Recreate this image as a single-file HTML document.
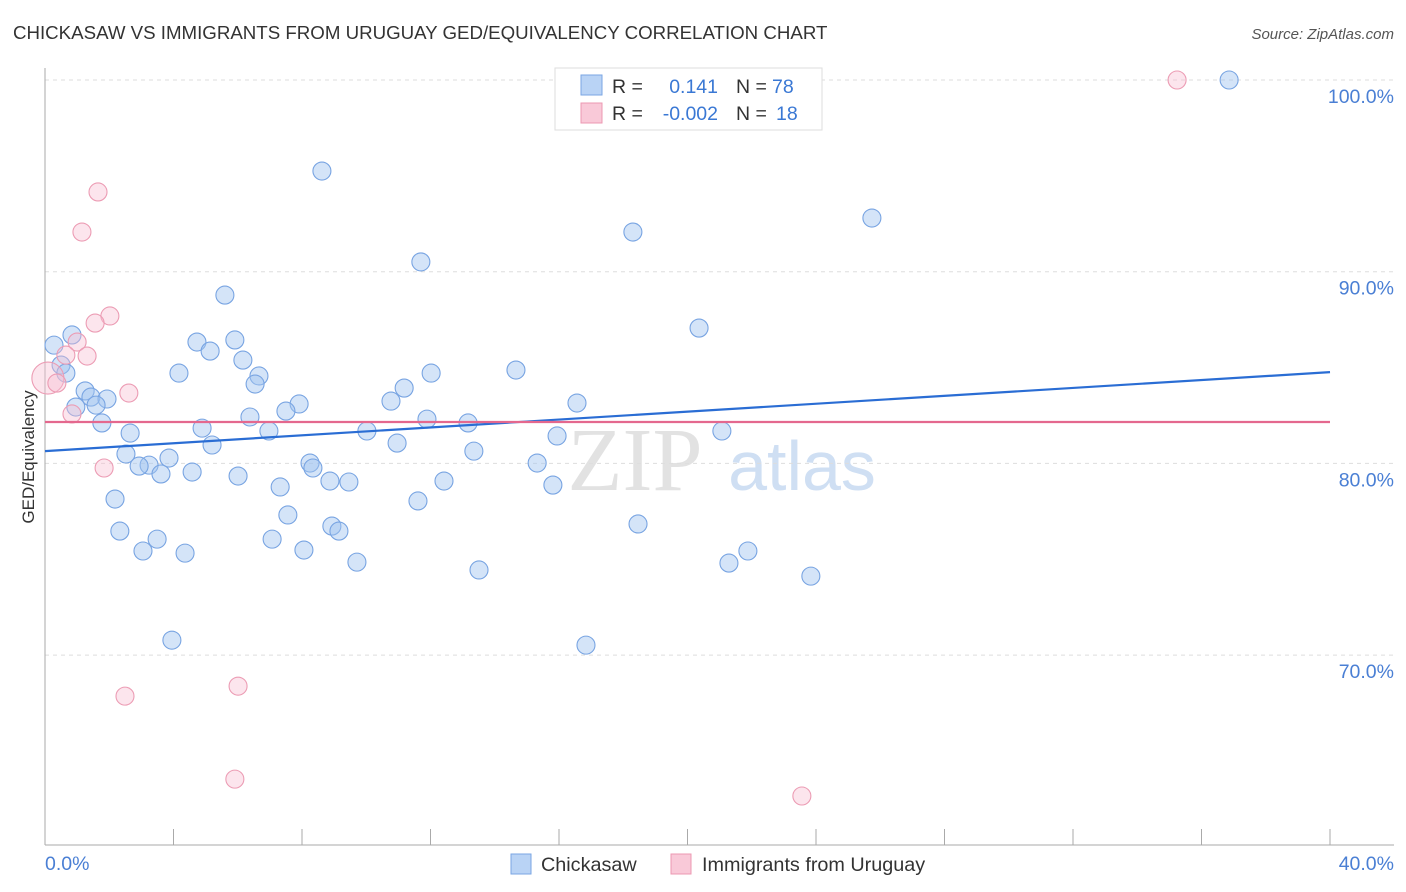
<!DOCTYPE html>
<html><head><meta charset="utf-8"><style>
body{margin:0;background:#fff;font-family:"Liberation Sans",sans-serif}
svg{display:block}
</style></head><body>
<svg id="chart" width="1406" height="892" xmlns="http://www.w3.org/2000/svg">
<text x="13" y="39" font-size="18.7" fill="#333">CHICKASAW VS IMMIGRANTS FROM URUGUAY GED/EQUIVALENCY CORRELATION CHART</text>
<text x="1394" y="39" font-size="15" fill="#555" font-style="italic" text-anchor="end">Source: ZipAtlas.com</text>
<g>
<text x="635" y="490" font-size="90" fill="#e2e2e2" font-family="Liberation Serif,serif" text-anchor="middle">ZIP</text>
<text x="802" y="490" font-size="70" fill="#cfdff3" text-anchor="middle">atlas</text>
</g>
<g id="grid"></g>
<g id="axes"></g>
<g id="marks"></g>
<text transform="translate(34,457) rotate(-90)" font-size="17" fill="#333" text-anchor="middle">GED/Equivalency</text>
<text x="45" y="870" font-size="19.5" fill="#4a7fd4">0.0%</text>
<text x="1394" y="870" font-size="19.5" fill="#4a7fd4" text-anchor="end">40.0%</text>
<g>
<rect x="555" y="68" width="267" height="62" fill="#fff" stroke="#ddd"/>
<rect x="581" y="75" width="21" height="20" fill="#b9d3f5" stroke="#7aa6e3"/>
<rect x="581" y="103" width="21" height="20" fill="#f9c9d8" stroke="#ec98b2"/>
<text x="612" y="93" font-size="19.5" fill="#333">R =</text>
<text x="718" y="93" font-size="19.5" fill="#3a78d4" text-anchor="end">0.141</text>
<text x="736" y="93" font-size="19.5" fill="#333">N =</text>
<text x="772" y="93" font-size="19.5" fill="#3a78d4">78</text>
<text x="612" y="120" font-size="19.5" fill="#333">R =</text>
<text x="718" y="120" font-size="19.5" fill="#3a78d4" text-anchor="end">-0.002</text>
<text x="736" y="120" font-size="19.5" fill="#333">N =</text>
<text x="776" y="120" font-size="19.5" fill="#3a78d4">18</text>
</g>
<g>
<rect x="511" y="854" width="20" height="20" fill="#b9d3f5" stroke="#7aa6e3"/>
<text x="541" y="871" font-size="19.8" fill="#333">Chickasaw</text>
</g>
<g>
<rect x="671" y="854" width="20" height="20" fill="#f9c9d8" stroke="#ec98b2"/>
<text x="702" y="871" font-size="19.8" fill="#333">Immigrants from Uruguay</text>
</g>
</svg>
<script>
const yTicks=[70,80,90,100];
const yTickLabels=["70.0%","80.0%","90.0%","100.0%"];
const xTicks=[0,4,8,12,16,20,24,28,32,36,40];
const blueX=[36.86,8.62,25.74,18.30,11.70,5.60,20.36,0.84,5.91,4.73,0.28,5.14,6.16,0.50,0.65,4.17,12.02,14.66,6.66,6.54,1.25,11.18,1.43,1.93,0.96,1.59,7.91,10.77,16.56,7.50,6.38,11.89,13.17,1.77,4.89,10.02,2.65,6.97,21.07,15.94,10.96,5.20,13.35,2.52,3.86,3.24,2.93,8.25,8.34,15.32,3.61,4.58,6.01,8.87,9.46,12.42,7.32,15.81,2.18,11.61,7.56,8.93,9.15,18.46,2.33,7.07,3.49,3.05,4.36,8.06,21.88,21.29,9.71,13.51,23.84,3.95,16.84];
const blueY=[100.0,95.25,92.80,92.07,90.51,88.78,87.06,86.70,86.44,86.33,86.17,85.86,85.39,85.13,84.71,84.71,84.71,84.87,84.56,84.14,83.78,83.93,83.46,83.36,82.94,83.04,83.10,83.25,83.15,82.73,82.42,82.31,82.11,82.11,81.84,81.69,81.58,81.69,81.69,81.43,81.06,80.96,80.64,80.49,80.28,79.91,79.86,80.02,79.76,80.02,79.45,79.55,79.34,79.08,79.03,79.08,78.77,78.87,78.14,78.04,77.31,76.73,76.47,76.84,76.47,76.05,76.05,75.43,75.32,75.48,75.43,74.80,74.85,74.44,74.12,70.78,70.52];
const pinkX=[35.24,1.65,1.15,2.02,1.56,1.00,1.31,0.65,0.09,0.37,2.61,0.84,1.84,6.01,2.49,5.91,23.56];
const pinkY=[100.0,94.16,92.07,87.69,87.32,86.33,85.60,85.65,84.45,84.19,83.67,82.58,79.76,68.38,67.86,63.53,62.65];
const pinkR=[9,9,9,9,9,9,9,9,16,9,9,9,9,9,9,9,9];
const blueTrend=[80.64,84.76];
const pinkTrend=[82.16,82.16];
const X=v=>45+v/40*1285;
const Y=v=>80+(100-v)*19.17;
const NS="http://www.w3.org/2000/svg";
function mk(parent,tag,attrs){const e=document.createElementNS(NS,tag);for(const k in attrs)e.setAttribute(k,attrs[k]);document.getElementById(parent).appendChild(e);return e;}
yTicks.forEach((t,i)=>{
 const l=mk('grid','line',{x1:45,x2:1394,y1:Y(t),y2:Y(t),stroke:'#ddd','stroke-dasharray':'4,4'});
 
 
 const tx=mk('grid','text',{x:1394,y:Y(t)+23,'font-size':19.5,fill:'#4a7fd4','text-anchor':'end'});
 tx.textContent=yTickLabels[i];
 
 
});
const ya=mk('axes','line',{x1:45,x2:45,y1:68,y2:845,stroke:'#aaa'});


const xa=mk('axes','line',{x1:45,x2:1394,y1:845,y2:845,stroke:'#aaa'});


xTicks.forEach(t=>{
 const k=mk('axes','line',{x1:X(t),x2:X(t),y1:829,y2:845,stroke:'#aaa'});
 
 
});
blueX.forEach((x,i)=>{
 const c=mk('marks','circle',{cx:X(x),cy:Y(blueY[i]),r:9,fill:'rgba(160,196,240,0.45)',stroke:'#78a4e2','stroke-width':1.1});
 
 
});
pinkX.forEach((x,i)=>{
 const c=mk('marks','circle',{cx:X(x),cy:Y(pinkY[i]),r:pinkR[i],fill:'rgba(248,190,210,0.4)',stroke:'#ec9cb4','stroke-width':1.1});
 
 
});
const bl=mk('marks','line',{x1:X(0),x2:X(40),y1:Y(blueTrend[0]),y2:Y(blueTrend[1]),stroke:'#2a6dd4','stroke-width':2.2});


const pl=mk('marks','line',{x1:X(0),x2:X(40),y1:Y(pinkTrend[0]),y2:Y(pinkTrend[1]),stroke:'#e4688e','stroke-width':2.2});


</script>
</body></html>
